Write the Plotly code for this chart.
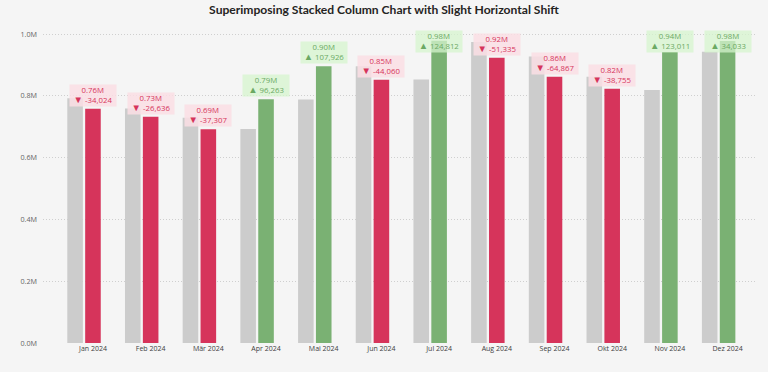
import plotly.graph_objects as go

months = ["Jan 2024", "Feb 2024", "Mär 2024", "Apr 2024", "Mai 2024", "Jun 2024",
          "Jul 2024", "Aug 2024", "Sep 2024", "Okt 2024", "Nov 2024", "Dez 2024"]
current = [758000, 732000, 692000, 789000, 896000, 852000,
           978000, 923000, 862000, 823000, 942000, 977000]
delta = [-34024, -26636, -37307, 96263, 107926, -44060,
         124812, -51335, -64867, -38755, 123011, 34033]
previous = [c - d for c, d in zip(current, delta)]
ytick_vals = [0, 200000, 400000, 600000, 800000, 1000000]
ytick_text = ["0.0M", "0.2M", "0.4M", "0.6M", "0.8M", "1.0M"]

RED = "#D6345B"
GREEN = "#7AB173"
GREY = "#CCCCCC"
YMAX = 1013000

fig = go.Figure()
fig.add_trace(go.Bar(x=months, y=previous, marker_color=GREY, marker_line_width=0,
                     width=0.27, offset=-0.445, name="Previous", hoverinfo="y"))
fig.add_trace(go.Bar(x=months, y=current,
                     marker_color=[GREEN if d > 0 else RED for d in delta],
                     marker_line_width=0, width=0.27, offset=-0.135,
                     name="Current", hoverinfo="y"))

box_h = 72000
for m, c, d in zip(months, current, delta):
    pos = d > 0
    tri = "▲" if pos else "▼"
    txt = f"{c/1e6:.2f}M<br><span style='font-size:9.5px'>{tri}</span> {d:,}"
    col = "#6BA963" if pos else "#D6345B"
    bg = "rgba(214,244,206,0.75)" if pos else "rgba(250,222,228,0.85)"
    if c + 8000 + box_h > YMAX:
        y, ya = YMAX, "top"
    else:
        y, ya = c + 6000, "bottom"
    fig.add_annotation(x=m, y=y, yanchor=ya, xanchor="center", text=txt,
                       showarrow=False, font=dict(family="Open Sans", size=7.8, color=col),
                       bgcolor=bg, borderpad=0, width=46, height=21, align="center")

fig.update_layout(
    width=768, height=372,
    paper_bgcolor="#F5F5F5", plot_bgcolor="#F5F5F5",
    margin=dict(l=43, r=11, t=30, b=29),
    barmode="overlay", showlegend=False,
    title=dict(text="<b>Superimposing Stacked Column Chart with Slight Horizontal Shift</b>",
               x=0.5, xanchor="center", y=0.985, yanchor="top",
               font=dict(family="Lato", size=12.1, color="#252423")),
    font=dict(family="Open Sans"),
)
fig.update_xaxes(range=[-0.866, 11.51], showgrid=False, showline=False, zeroline=False,
                 tickfont=dict(size=7, color="#404040"), ticks="", ticklen=0)
fig.update_yaxes(range=[0, YMAX], tickvals=ytick_vals, ticktext=ytick_text,
                 showgrid=True, gridcolor="#CFCFCF", griddash="1px,2px", gridwidth=1,
                 zeroline=False, showline=False,
                 tickfont=dict(size=7.2, color="#666666"), ticks="", ticklabelstandoff=5)

fig.write_html("out.html", config={"displayModeBar": False},
               post_script="document.body.style.margin='0';")
